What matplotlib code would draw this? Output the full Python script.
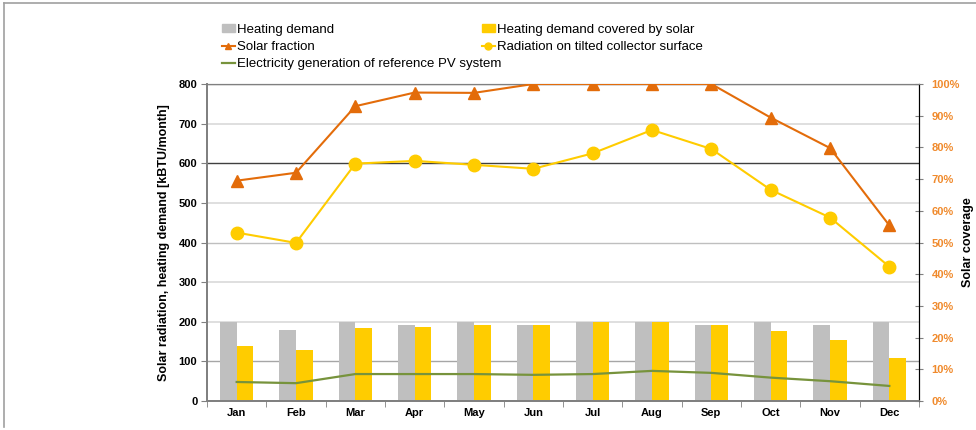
import matplotlib.pyplot as plt
import matplotlib.lines as mlines
import matplotlib.patches as mpatches
import numpy as np

plt.rcParams['font.family'] = ['Liberation Sans', 'DejaVu Sans']

months = ['Jan', 'Feb', 'Mar', 'Apr', 'May', 'Jun', 'Jul', 'Aug', 'Sep', 'Oct', 'Nov', 'Dec']
heating_demand = [200, 178, 200, 192, 200, 192, 200, 200, 192, 200, 192, 200]
demand_solar = [138, 128, 184, 187, 192, 192, 200, 200, 192, 176, 153, 108]
pv_generation = [48, 45, 68, 68, 68, 66, 68, 76, 71, 59, 50, 38]
radiation = [425, 399, 599, 606, 596, 586, 625, 684, 636, 533, 463, 339]
solar_fraction = [69.5, 72, 93, 97.3, 97.2, 100, 100, 100, 100, 89.4, 79.8, 55.4]

c_gray = '#bfbfbf'
c_yellow = '#ffcc00'
c_orange = '#e36c0a'
c_green = '#77933c'
c_tick_or = '#f08a2c'

fig = plt.figure(figsize=[9.76, 4.3], dpi=100)
ax = fig.add_axes([207/976, 1 - 401/430, 712/976, 317/430])
ax2 = ax.twinx()

x = np.arange(len(months))
w = 0.28
ax.bar(x - w/2, heating_demand, w, color=c_gray, zorder=2)
ax.bar(x + w/2, demand_solar, w, color=c_yellow, zorder=2)
ax.plot(x, pv_generation, color=c_green, lw=1.6, zorder=3)
ax.plot(x, radiation, color=c_yellow, lw=1.5, marker='o', ms=9, zorder=4)
ax2.plot(x, solar_fraction, color=c_orange, lw=1.5, marker='^', ms=8, zorder=4)

ax.set_xlim(-0.5, 11.5)
ax.set_ylim(0, 800)
ax.set_yticks(np.arange(0, 801, 100))
ax2.set_ylim(0, 100)
ax2.set_yticks(np.arange(0, 101, 10))
ax2.set_yticklabels([f'{v}%' for v in range(0, 101, 10)])

# gridlines, some darker like in the source
ax.yaxis.grid(True, lw=1.2, color='#d9d9d9', zorder=0)
ax.set_axisbelow(True)
grid_cols = {1: '#a6a6a6', 4: '#bfbfbf', 6: '#404040', 8: '#808080'}
for i, gl in enumerate(ax.get_ygridlines()):
    if i in grid_cols:
        gl.set_color(grid_cols[i])
        gl.set_linewidth(1.0)

ax.set_xticks(x)
ax.set_xticklabels(months)
ax.set_xticks(np.arange(-0.5, 12, 1), minor=True)
ax.tick_params(axis='x', which='major', length=0, pad=5)
ax.tick_params(axis='x', which='minor', length=4, color='#808080')
ax.tick_params(axis='y', length=4, color='#808080', pad=3)
ax2.tick_params(axis='y', length=6, direction='inout', color='#808080', colors=c_tick_or, pad=6)

for lab in ax.get_xticklabels() + ax.get_yticklabels() + ax2.get_yticklabels():
    lab.set_fontweight('bold')
    lab.set_fontsize(8)

for a in (ax, ax2):
    a.spines['left'].set_color('#808080')
    a.spines['bottom'].set_color('#808080')
    a.spines['top'].set_color('#808080')
    a.spines['right'].set_color('#000000')
    a.spines['left'].set_linewidth(1.3)
    a.spines['bottom'].set_linewidth(1.3)

ax.set_ylabel('Solar radiation, heating demand [kBTU/month]', fontsize=9, fontweight='bold')
ax.yaxis.set_label_coords(-0.052, 0.5)
ax2.set_ylabel('Solar coverage', fontsize=9, fontweight='bold')
ax2.yaxis.set_label_coords(1.06, 0.5)

# legends
h_demand = mpatches.Patch(color=c_gray, label='Heating demand')
h_solar = mpatches.Patch(color=c_yellow, label='Heating demand covered by solar')
h_frac = mlines.Line2D([], [], color=c_orange, marker='^', ms=5, lw=1.5, label='Solar fraction')
h_rad = mlines.Line2D([], [], color=c_yellow, marker='o', ms=5, lw=1.5, label='Radiation on tilted collector surface')
h_pv = mlines.Line2D([], [], color=c_green, lw=1.6, label='Electricity generation of reference PV system')

leg_kw = dict(frameon=False, fontsize=9.5, handlelength=1.0, handleheight=0.5,
              handletextpad=0.15, labelspacing=0.4, borderpad=0, loc='upper left')
leg1 = fig.legend(handles=[h_demand, h_frac, h_pv], bbox_to_anchor=(215/976, 1 - 17/430), **leg_kw)
leg2 = fig.legend(handles=[h_solar, h_rad], bbox_to_anchor=(475/976, 1 - 17/430), **leg_kw)

# partial outer frame
fig.add_artist(mlines.Line2D([4/976, 1], [1 - 3/430, 1 - 3/430], color='#a0a0a0', lw=1.2))
fig.add_artist(mlines.Line2D([4/976, 4/976], [1 - 3/430, 1 - 427/430], color='#a0a0a0', lw=1.2))

fig.savefig('out.png', dpi=100)
